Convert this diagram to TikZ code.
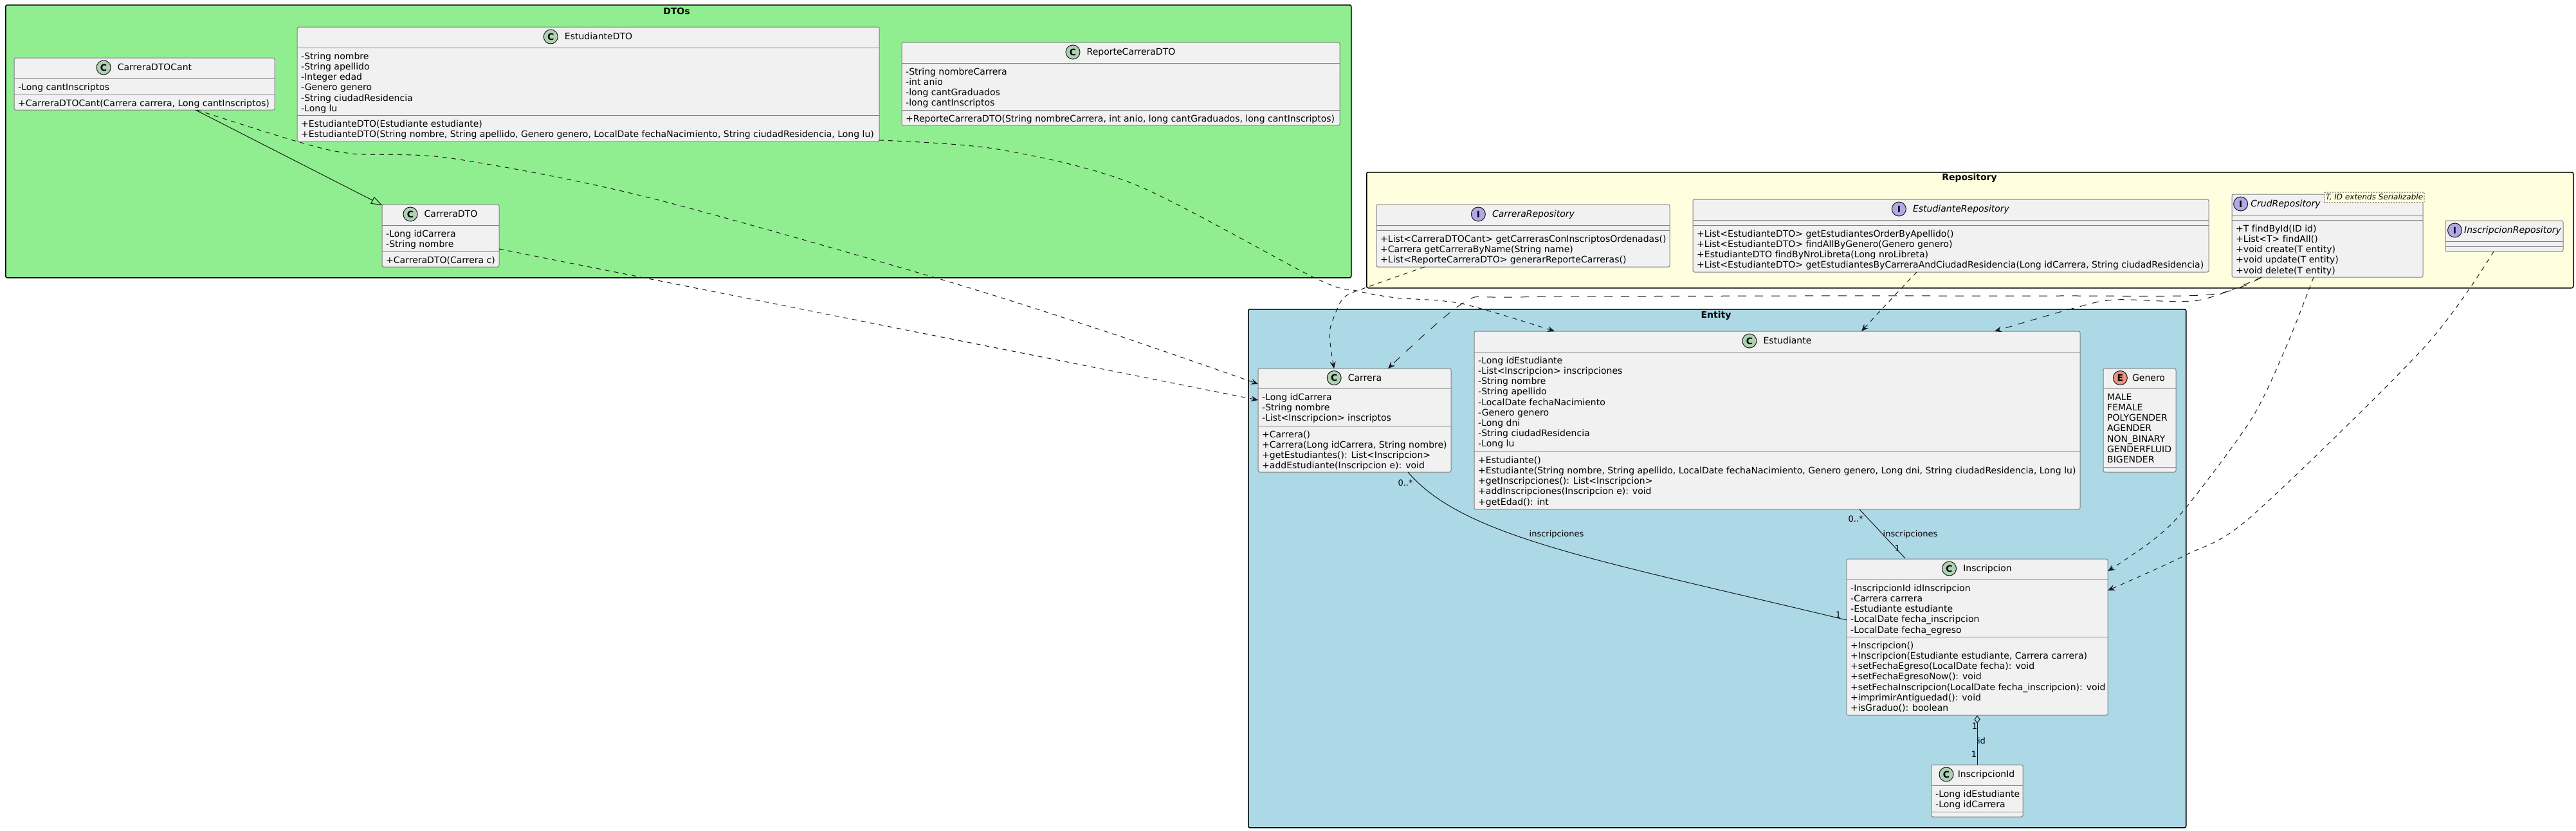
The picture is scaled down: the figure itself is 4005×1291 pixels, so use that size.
\documentclass[tikz,border=0pt]{standalone}
\usepackage{fontspec}
\setmainfont[Ligatures=NoCommon]{DejaVu Sans}
\usetikzlibrary{calc,arrows.meta}
\definecolor{frameG}{HTML}{90EE90}
\definecolor{frameY}{HTML}{FFFFE0}
\definecolor{frameB}{HTML}{ADD8E6}
\definecolor{boxfill}{HTML}{F1F1F1}
\definecolor{boxline}{HTML}{808080}
\definecolor{inkline}{HTML}{181818}
\definecolor{iconC}{HTML}{ADD1B2}
\definecolor{iconI}{HTML}{B4A7E5}
\definecolor{iconE}{HTML}{EB937F}
\tikzset{
  frame/.style={draw=black,line width=1.5pt,rounded corners=2.5pt},
  classbox/.style={draw=boxline,fill=boxfill,line width=1pt,rounded corners=2.5pt,inner sep=0pt,outer sep=0pt},
  classline/.style={draw=boxline,line width=1pt},
  framelabel/.style={font=\fontsize{14}{16.2}\selectfont\bfseries,inner sep=0pt},
  rowtext/.style={anchor=north west,align=left,inner sep=0pt,font=\fontsize{14}{16.2}\selectfont},
  titletext/.style={inner sep=0pt,font=\fontsize{14}{16.2}\selectfont},
  icon/.style={circle,draw=inkline,line width=1pt,minimum size=22pt,inner sep=0pt,font=\fontsize{14}{14}\selectfont\bfseries},
  dep/.style={draw=inkline,line width=1pt,dash pattern=on 7pt off 7pt,-{Stealth[length=11pt,width=9pt,inset=4pt]}},
  assoc/.style={draw=inkline,line width=1pt},
  ext/.style={draw=inkline,line width=1pt,-{Triangle[open,length=17pt,width=12pt]}},
  edgelabel/.style={inner sep=0pt,font=\fontsize{13}{15}\selectfont},
}
% #1 id, #2 x1, #3 y1, #4 x2, #5 y2, #6 y of header line, #7 y of separator
\newcommand{\umlbox}[7]{%
  \pgfmathsetmacro{\boxW}{#4-#2}\pgfmathsetmacro{\boxH}{#5-#3}%
  \pgfmathsetmacro{\boxCx}{(#2+#4)/2}\pgfmathsetmacro{\boxCy}{(#3+#5)/2}%
  \pgfmathsetmacro{\dyH}{#6-#3}\pgfmathsetmacro{\dyS}{#7-#3}%
  \node[classbox,minimum width=\boxW pt,minimum height=\boxH pt] (#1) at (\boxCx,\boxCy) {};
  \draw[classline] ($(#1.north west)+(0,\dyH)$) -- ($(#1.north east)+(0,\dyH)$);
  \draw[classline] ($(#1.north west)+(0,\dyS)$) -- ($(#1.north east)+(0,\dyS)$);
}
% #1 id, #2 icon colour, #3 letter, #4 title, #5 title offset from centre, #6 gap
\newcommand{\umlhead}[6]{%
  \pgfmathsetmacro{\headY}{\dyH/2}%
  \node[titletext,anchor=center] (#1-title) at ($(#1.north)+(#5,\headY)$) {\rule{0pt}{10.5pt}\rule[-3pt]{0pt}{3pt}#4};
  \node[icon,fill=#2,anchor=east] (#1-icon) at ($(#1-title.west)+(-#6,-1)$) {#3};
}
% #1 id, #2 attributes, #3 methods
\newcommand{\umlrows}[3]{%
  \pgfmathsetmacro{\rowA}{\dyH+6}\pgfmathsetmacro{\rowB}{\dyS+6}%
  \node[rowtext] (#1-attrs) at ($(#1.north west)+(6,\rowA)$) {\rule{0pt}{12pt}#2};
  \node[rowtext] (#1-meths) at ($(#1.north west)+(6,\rowB)$) {\rule{0pt}{12pt}#3};
}
\begin{document}
\begin{tikzpicture}[x=1pt,y=-1pt]
\useasboundingbox (0,0) rectangle (4005,1291);
% frames
\node[frame,fill=frameG,minimum width=2092pt,minimum height=424pt,anchor=north west,inner sep=0pt] (dtos) at (8,7) {};
\node[frame,fill=frameY,minimum width=1876pt,minimum height=180pt,anchor=north west,inner sep=0pt] (repo) at (2124,267) {};
\node[frame,fill=frameB,minimum width=1458pt,minimum height=806pt,anchor=north west,inner sep=0pt] (entity) at (1940,480) {};
\node[framelabel] (dtos-label) at (1052,17) {DTOs};
\node[framelabel] (repo-label) at (3062,277) {Repository};
\node[framelabel] (entity-label) at (2668,491) {Entity};
% DTOs
\umlbox{cant}{22}{90}{427}{171}{122}{147}
\umlhead{cant}{iconC}{C}{CarreraDTOCant}{16}{10}
\umlrows{cant}{-Long cantInscriptos}{+CarreraDTOCant(Carrera carrera, Long cantInscriptos)}
\umlbox{estdto}{462}{42}{1367}{220}{74}{179}
\umlhead{estdto}{iconC}{C}{EstudianteDTO}{16}{10}
\umlrows{estdto}{-String nombre\\-String apellido\\-Integer edad\\-Genero genero\\-String ciudadResidencia\\-Long lu}{+EstudianteDTO(Estudiante estudiante)\\+EstudianteDTO(String nombre, String apellido, Genero genero, LocalDate fechaNacimiento, String ciudadResidencia, Long lu)}
\umlbox{repdto}{1402}{66}{2083}{195}{98}{171}
\umlhead{repdto}{iconC}{C}{ReporteCarreraDTO}{16}{10}
\umlrows{repdto}{-String nombreCarrera\\-int anio\\-long cantGraduados\\-long cantInscriptos}{+ReporteCarreraDTO(String nombreCarrera, int anio, long cantGraduados, long cantInscriptos)}
\umlbox{cardto}{594}{318}{776}{415}{350}{391}
\umlhead{cardto}{iconC}{C}{CarreraDTO}{16}{10}
\umlrows{cardto}{-Long idCarrera\\-String nombre}{+CarreraDTO(Carrera c)}
% Repository
\umlbox{carrepo}{2140}{318}{2596}{415}{350}{358}
\umlhead{carrepo}{iconI}{I}{\itshape CarreraRepository}{16}{10}
\umlrows{carrepo}{}{+List<CarreraDTOCant> getCarrerasConInscriptosOrdenadas()\\+Carrera getCarreraByName(String name)\\+List<ReporteCarreraDTO> generarReporteCarreras()}
\umlbox{estrepo}{2632}{310}{3434}{423}{342}{350}
\umlhead{estrepo}{iconI}{I}{\itshape EstudianteRepository}{16}{10}
\umlrows{estrepo}{}{+List<EstudianteDTO> getEstudiantesOrderByApellido()\\+List<EstudianteDTO> findAllByGenero(Genero genero)\\+EstudianteDTO findByNroLibreta(Long nroLibreta)\\+List<EstudianteDTO> getEstudiantesByCarreraAndCiudadResidencia(Long idCarrera, String ciudadResidencia)}
\umlbox{crud}{3470}{302}{3767}{431}{334}{342}
\umlhead{crud}{iconI}{I}{\itshape CrudRepository}{-65}{4}
\umlrows{crud}{}{+T findById(ID id)\\+List<T> findAll()\\+void create(T entity)\\+void update(T entity)\\+void delete(T entity)}
\node[draw=black,dash pattern=on 2pt off 2pt,line width=0.9pt,fill=frameY,rounded corners=1pt,minimum width=155pt,minimum height=16pt,inner sep=0pt,font=\fontsize{12}{14}\selectfont\itshape] (crud-template) at (3691.5,307) {T, ID extends Serializable};
\umlbox{insrepo}{3802}{343}{3985}{391}{375}{383}
\umlhead{insrepo}{iconI}{I}{\itshape InscripcionRepository}{13}{3}
% Entity
\umlbox{carrera}{1956}{573}{2256}{734}{604}{662}
\umlhead{carrera}{iconC}{C}{Carrera}{16}{10}
\umlrows{carrera}{-Long idCarrera\\-String nombre\\-List<Inscripcion> inscriptos}{+Carrera()\\+Carrera(Long idCarrera, String nombre)\\+getEstudiantes(): List<Inscripcion>\\+addEstudiante(Inscripcion e): void}
\umlbox{estud}{2292}{515}{3234}{792}{547}{702}
\umlhead{estud}{iconC}{C}{Estudiante}{16}{10}
\umlrows{estud}{-Long idEstudiante\\-List<Inscripcion> inscripciones\\-String nombre\\-String apellido\\-LocalDate fechaNacimiento\\-Genero genero\\-Long dni\\-String ciudadResidencia\\-Long lu}{+Estudiante()\\+Estudiante(String nombre, String apellido, LocalDate fechaNacimiento, Genero genero, Long dni, String ciudadResidencia, Long lu)\\+getInscripciones(): List<Inscripcion>\\+addInscripciones(Inscripcion e): void\\+getEdad(): int}
\umlbox{genero}{3270}{573}{3383}{734}{604}{726}
\umlhead{genero}{iconE}{E}{Genero}{14}{7}
\umlrows{genero}{MALE\\FEMALE\\POLYGENDER\\AGENDER\\NON\_BINARY\\GENDERFLUID\\BIGENDER}{}
\umlbox{insc}{2871}{869}{3277}{1112}{901}{990}
\umlhead{insc}{iconC}{C}{Inscripcion}{16}{10}
\umlrows{insc}{-InscripcionId idInscripcion\\-Carrera carrera\\-Estudiante estudiante\\-LocalDate fecha\_inscripcion\\-LocalDate fecha\_egreso}{+Inscripcion()\\+Inscripcion(Estudiante estudiante, Carrera carrera)\\+setFechaEgreso(LocalDate fecha): void\\+setFechaEgresoNow(): void\\+setFechaInscripcion(LocalDate fecha\_inscripcion): void\\+imprimirAntiguedad(): void\\+isGraduo(): boolean}
\umlbox{inscid}{3003}{1189}{3145}{1270}{1221}{1262}
\umlhead{inscid}{iconC}{C}{InscripcionId}{14}{6}
\umlrows{inscid}{-Long idEstudiante\\-Long idCarrera}{}
% connectors
\draw[ext] ($(cant.south west)+(282,0)$) -- ($(cardto.north west)+(0,1)$);
\draw[dep] plot[smooth,tension=0.5] coordinates {($(cant.south west)+(284,0)$) (462,220) (548,239) (701,246) (1000,305) (1455,432) (1727,518) ($(carrera.north west)+(0,24)$)};
\draw[dep] ($(cardto.north east)+(0,69)$) -- ($(carrera.north west)+(0,49)$);
\draw[dep] plot[smooth,tension=0.5] coordinates {($(estdto.south east)+(0,-2)$) (1551,232) (1765,287) (2044,432) (2109,452) (2170,463) (2272,472) ($(estud.north west)+(125,0)$)};
\draw[dep] plot[smooth,tension=0.5] coordinates {($(carrepo.south west)+(75,0)$) (2124,447) (2090,462) (2075,490) (2067,520) ($(carrera.north west)+(118,0)$)};
\draw[dep,dash pattern=on 13pt off 13pt] plot[smooth,tension=0.5] coordinates {($(crud.south west)+(46,0)$) (3436,458) (3200,460) (2800,460) (2355,462) (2275,471) ($(carrera.north west)+(202,0)$)};
\draw[dep,dash pattern=on 10pt off 10pt] plot[smooth,tension=0.5] coordinates {($(crud.south west)+(46,0)$) (3417,467) (3288,466) (3221,480) ($(estud.north west)+(809,0)$)};
\draw[dep] plot[smooth,tension=0.5] coordinates {($(estrepo.south west)+(348,0)$) (2945,460) ($(estud.north west)+(602,0)$)};
\draw[dep] plot[smooth,tension=0.5] coordinates {($(crud.south west)+(127,0)$) (3554,540) (3500,652) (3398,790) (3347,840) ($(insc.north east)+(0,19)$)};
\draw[dep] plot[smooth,tension=0.5] coordinates {($(insrepo.south west)+(75,0)$) (3769,540) (3500,803) (3398,863) ($(insc.north east)+(0,49)$)};
\draw[assoc] ($(carrera.south west)+(233,0)$) .. controls (2275,835) and (2480,870) .. ($(insc.north west)+(0,95)$);
\draw[assoc] ($(estud.south west)+(599,0)$) -- ($(insc.north west)+(91,-1)$);
\draw[assoc,{Diamond[open,length=13pt,width=9pt]}-] (insc.south) -- (inscid.north);
% connector labels
\node[edgelabel] (l1) at (2185,751) {0..*};
\node[edgelabel] (l2) at (2420,831) {inscripciones};
\node[edgelabel] (l3) at (2858,956) {1};
\node[edgelabel] (l4) at (2885,807) {0..*};
\node[edgelabel] (l5) at (2970,831) {inscripciones};
\node[edgelabel] (l6) at (2950,853) {1};
\node[edgelabel] (l7) at (3070,1129) {1};
\node[edgelabel] (l8) at (3081,1152) {id};
\node[edgelabel] (l9) at (3069,1173) {1};
\end{tikzpicture}
\end{document}
